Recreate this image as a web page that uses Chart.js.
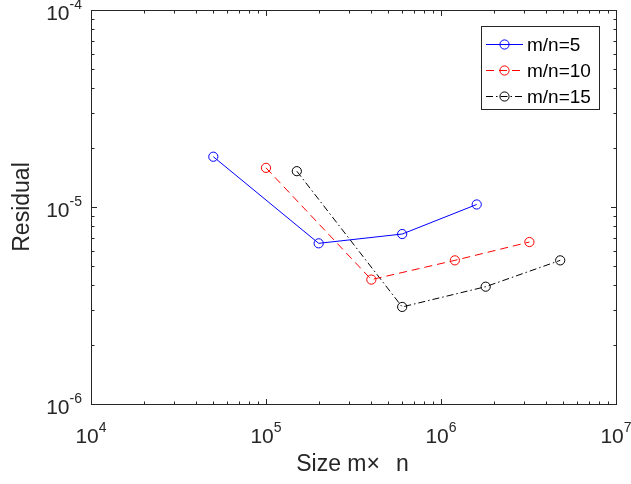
<!DOCTYPE html>
<html>
<head>
<meta charset="utf-8">
<script src="https://cdn.jsdelivr.net/npm/chart.js@4/dist/chart.umd.min.js"></script>
<style>
  html, body { margin: 0; padding: 0; background: #ffffff; }
  #wrap { width: 631px; height: 484px; }
</style>
</head>
<body>
<div id="wrap"><canvas id="c" width="631" height="484"></canvas></div>
<script>
// ---- data ----
const seriesLabels = ['m/n=5', 'm/n=10', 'm/n=15'];
const sizes5  = [5e4, 2e5, 6e5, 1.6e6];
const resid5  = [1.80e-5, 6.54e-6, 7.29e-6, 1.03e-5];
const sizes10 = [1e5, 4e5, 1.2e6, 3.2e6];
const resid10 = [1.58e-5, 4.28e-6, 5.36e-6, 6.64e-6];
const sizes15 = [1.5e5, 6e5, 1.8e6, 4.8e6];
const resid15 = [1.52e-5, 3.11e-6, 3.94e-6, 5.36e-6];
const xTickExponents = [4, 5, 6, 7];
const yTickExponents = [-6, -5, -4];
const xTitle = 'Size m\u00D7\u2002\u2009n';
const yTitle = 'Residual';

// ---- styles ----
const FONT = '"Liberation Sans", Arial, Helvetica, sans-serif';
const AXIS_COLOR = '#262626';
const seriesStyles = [
  { color: '#0000ff', dash: [] },
  { color: '#ff0000', dash: [8, 5] },
  { color: '#000000', dash: [7, 3, 1.5, 3] }
];

function toPoints(xs, ys) { return xs.map((x, i) => ({ x: x, y: ys[i] })); }
const seriesData = [toPoints(sizes5, resid5), toPoints(sizes10, resid10), toPoints(sizes15, resid15)];

const datasets = seriesData.map((d, i) => ({
  label: seriesLabels[i],
  data: d,
  borderColor: seriesStyles[i].color,
  borderWidth: 1,
  borderDash: seriesStyles[i].dash,
  pointStyle: 'circle',
  pointRadius: 4.6,
  pointBorderWidth: 1,
  pointBorderColor: seriesStyles[i].color,
  pointBackgroundColor: 'rgba(0,0,0,0)',
  fill: false,
  tension: 0
}));

function decadeTicks(exps) {
  const out = [];
  for (let i = 0; i < exps.length; i++) {
    const e = exps[i];
    out.push({ v: Math.pow(10, e), major: true });
    if (i < exps.length - 1) {
      for (let k = 2; k <= 9; k++) out.push({ v: k * Math.pow(10, e), major: false });
    }
  }
  return out;
}

function drawPow(ctx, base, exp, x, y, align, baseSize, expSize, raise) {
  ctx.font = baseSize + 'px ' + FONT;
  const wb = ctx.measureText(base).width;
  ctx.font = expSize + 'px ' + FONT;
  const we = ctx.measureText(exp).width;
  const total = wb + we;
  let x0 = x;
  if (align === 'center') x0 = x - total / 2;
  else if (align === 'right') x0 = x - total;
  ctx.textAlign = 'left';
  ctx.textBaseline = 'alphabetic';
  ctx.font = baseSize + 'px ' + FONT;
  ctx.fillText(base, x0, y);
  ctx.font = expSize + 'px ' + FONT;
  ctx.fillText(exp, x0 + wb, y - raise);
}

const axesPlugin = {
  id: 'matlabAxes',
  beforeDraw(chart) {
    const ctx = chart.ctx;
    ctx.save();
    ctx.fillStyle = '#ffffff';
    ctx.fillRect(0, 0, chart.width, chart.height);
    ctx.restore();
  },
  afterDraw(chart) {
    const ctx = chart.ctx;
    const a = chart.chartArea;
    const xs = chart.scales.x, ys = chart.scales.y;
    const L = Math.round(a.left) + 0.5, R = Math.round(a.right) + 0.5;
    const T = Math.round(a.top) + 0.5, B = Math.round(a.bottom) + 0.5;
    ctx.save();
    ctx.strokeStyle = AXIS_COLOR;
    ctx.lineWidth = 1;
    ctx.setLineDash([]);
    ctx.strokeRect(L, T, R - L, B - T);
    // ticks
    ctx.beginPath();
    decadeTicks(xTickExponents).forEach(t => {
      const px = Math.round(xs.getPixelForValue(t.v)) + 0.5;
      const len = t.major ? 5.5 : 3;
      ctx.moveTo(px, B); ctx.lineTo(px, B - len);
      ctx.moveTo(px, T); ctx.lineTo(px, T + len);
    });
    decadeTicks(yTickExponents).forEach(t => {
      const py = Math.round(ys.getPixelForValue(t.v)) + 0.5;
      const len = t.major ? 5.5 : 3;
      ctx.moveTo(L, py); ctx.lineTo(L + len, py);
      ctx.moveTo(R, py); ctx.lineTo(R - len, py);
    });
    ctx.stroke();
    // tick labels
    ctx.fillStyle = AXIS_COLOR;
    xTickExponents.forEach(e => {
      const px = xs.getPixelForValue(Math.pow(10, e));
      drawPow(ctx, '10', String(e), px, 443, 'center', 21, 14, 11);
    });
    yTickExponents.forEach(e => {
      const py = ys.getPixelForValue(Math.pow(10, e));
      drawPow(ctx, '10', String(e), a.left - 9, py + 10, 'right', 21, 14, 11);
    });
    // axis titles
    ctx.font = '23px ' + FONT;
    ctx.textAlign = 'center';
    ctx.textBaseline = 'alphabetic';
    ctx.fillText(xTitle, (a.left + a.right) / 2 - 1, 471);
    ctx.save();
    ctx.translate(29, (a.top + a.bottom) / 2);
    ctx.rotate(-Math.PI / 2);
    ctx.fillText(yTitle, 0, 0);
    ctx.restore();
    // legend
    const bx = 481.5, by = 26.5, bw = 118, bh = 83;
    ctx.fillStyle = '#ffffff';
    ctx.fillRect(bx, by, bw, bh);
    ctx.strokeStyle = AXIS_COLOR;
    ctx.strokeRect(bx, by, bw, bh);
    const rows = [44, 70, 96];
    chart.data.datasets.forEach((ds, i) => {
      const y = rows[i] + 0.5;
      ctx.strokeStyle = ds.borderColor;
      ctx.lineWidth = 1;
      ctx.setLineDash(ds.borderDash || []);
      ctx.beginPath();
      ctx.moveTo(486, y); ctx.lineTo(523, y);
      ctx.stroke();
      ctx.setLineDash([]);
      ctx.beginPath();
      ctx.arc(504.5, y, 4.6, 0, Math.PI * 2);
      ctx.stroke();
      ctx.fillStyle = '#000000';
      ctx.font = '19px ' + FONT;
      ctx.textAlign = 'left';
      ctx.textBaseline = 'middle';
      ctx.fillText(ds.label, 527, y + 1);
    });
    ctx.restore();
  }
};

new Chart(document.getElementById('c'), {
  type: 'line',
  data: { datasets: datasets },
  options: {
    responsive: false,
    animation: false,
    devicePixelRatio: 1,
    layout: { padding: { left: 91, top: 10, right: 15, bottom: 80 } },
    plugins: { legend: { display: false }, title: { display: false }, tooltip: { enabled: false } },
    scales: {
      x: { type: 'logarithmic', min: 1e4, max: 1e7, display: false },
      y: { type: 'logarithmic', min: 1e-6, max: 1e-4, display: false }
    }
  },
  plugins: [axesPlugin]
});
</script>
</body>
</html>
